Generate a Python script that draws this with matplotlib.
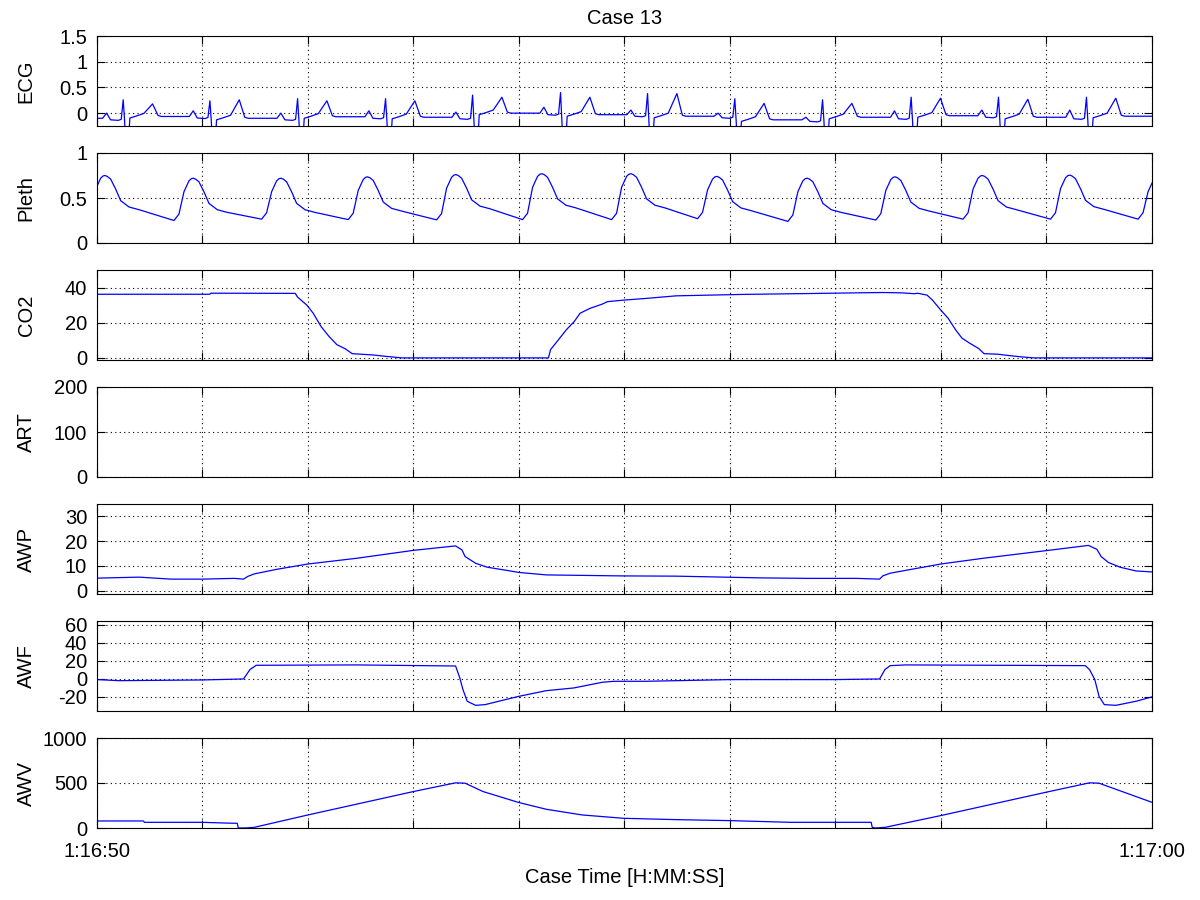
import matplotlib.pyplot as plt
from matplotlib.ticker import FormatStrFormatter

plt.rcParams['font.family'] = ['Liberation Sans', 'DejaVu Sans']
plt.rcParams['axes.unicode_minus'] = False

# x axis: seconds after 1:16:50
tick_seconds = list(range(11))
tick_labels = ['1:16:50'] + [''] * 9 + ['1:17:00']

# ECG beats: R time (s), R / T / P wave heights, baseline between beats
ecg_r_time = [0.249, 1.071, 1.902, 2.736, 3.561, 4.395, 5.220, 6.047, 6.879, 7.719, 8.547, 9.381]
ecg_r_amp = [0.26, 0.24, 0.28, 0.28, 0.35, 0.40, 0.38, 0.28, 0.26, 0.31, 0.31, 0.31]
ecg_t_amp = [0.18, 0.26, 0.24, 0.24, 0.31, 0.31, 0.38, 0.19, 0.19, 0.29, 0.27, 0.29]
ecg_p_amp = [0.0, 0.045, 0.0, 0.045, 0.02, 0.115, 0.06, 0.0, -0.08, 0.045, 0.06, 0.06]
ecg_base = [-0.1, -0.065, -0.1, -0.07, -0.08, 0.0, -0.03, -0.06, -0.13, -0.08, -0.05, -0.08, -0.06]
# one beat: offset from R (s), which level it refers to, and offset from that level
ecg_shape_dt = [-0.237, -0.196, -0.158, -0.12, -0.047, -0.019, 0.0, 0.013, 0.022, 0.05,
                0.063, 0.126, 0.196, 0.278, 0.33, 0.363]
ecg_shape_ref = ['b', 'b', 'p', 'b', 'b', 'b', 'r', 'abs', 'abs', 'abs',
                 'n', 'n', 'n', 't', 'n', 'n']
ecg_shape_delta = [0, 0, 0, -0.03, -0.04, -0.02, 0, -0.15, -0.55, -0.55,
                   -0.03, 0.01, 0.06, 0, 0.02, 0]

# Pleth pulses: trough time (s), trough and peak levels
pleth_trough_time = [-0.107, 0.730, 1.561, 2.382, 3.220, 4.035, 4.879, 5.694, 6.55, 7.384, 8.211, 9.040, 9.870]
pleth_trough = [0.30, 0.25, 0.265, 0.26, 0.257, 0.26, 0.26, 0.27, 0.24, 0.255, 0.265, 0.265, 0.265]
pleth_peak = [0.75, 0.72, 0.72, 0.735, 0.76, 0.77, 0.77, 0.74, 0.72, 0.735, 0.75, 0.754, 0.72]
pleth_shape_dt = [0.0, 0.047, 0.095, 0.142, 0.165, 0.183, 0.205, 0.237, 0.284, 0.332, 0.411, 0.506]
pleth_shape_ref = ['tr', 'tr', 'pk', 'pk', 'pk', 'pk', 'pk', 'pk', 'pk', 'pk', 'pk', 'pk']
pleth_shape_delta = [0.0, 0.07, -0.15, -0.03, -0.005, 0.0, -0.01, -0.04, -0.15, -0.28, -0.35, -0.38]

co2_t = [0, 1.07, 1.08, 1.88, 1.90, 1.99, 2.05, 2.125, 2.20, 2.275, 2.35, 2.42, 2.61, 2.76, 2.89,
         4.28, 4.30, 4.375, 4.45, 4.525, 4.58, 4.675, 4.79, 4.84, 5.0, 5.2, 5.49, 6.11, 6.73, 7.45,
         7.63, 7.75, 7.78, 7.87, 7.92, 8.0, 8.07, 8.14, 8.2, 8.27, 8.36, 8.41, 8.54, 8.65, 8.76, 8.88, 10]
co2_v = [36.2, 36.2, 36.8, 36.7, 34.7, 30.0, 25.4, 17.8, 12.2, 7.5, 5.3, 2.4, 1.7, 0.75, 0.0,
         0.0, 4.7, 10.3, 16.0, 20.7, 25.4, 28.2, 30.6, 32.0, 32.9, 33.8, 35.3, 36.1, 36.6, 37.2,
         37.0, 36.5, 36.8, 35.7, 32.9, 27.2, 22.5, 16.0, 11.3, 8.5, 5.3, 2.4, 2.1, 1.3, 0.6, 0.0, 0.0]

awp_t = [0, 0.4, 0.7, 1.0, 1.3, 1.39, 1.43, 1.49, 1.71, 2.0, 2.46, 3.0, 3.40, 3.46, 3.49, 3.59, 3.70,
         3.89, 4.0, 4.26, 4.97, 5.49, 6.29, 6.74, 7.2, 7.42, 7.45, 7.52, 8.0, 8.4, 9.0, 9.40, 9.48,
         9.52, 9.59, 9.70, 9.85, 10]
awp_v = [5.1, 5.5, 4.7, 4.7, 5.0, 4.7, 5.8, 6.8, 8.7, 10.8, 13.1, 16.3, 18.1, 16.5, 13.8, 11.1, 9.5,
         8.2, 7.4, 6.4, 6.0, 5.9, 5.2, 5.0, 5.0, 4.7, 6.0, 7.1, 10.8, 13.1, 16.2, 18.3, 16.7,
         13.8, 11.4, 9.5, 8.0, 7.6]

awf_t = [0, 0.21, 1.0, 1.39, 1.45, 1.51, 2.46, 3.40, 3.44, 3.47, 3.51, 3.59, 3.68, 4.0, 4.26, 4.52,
         4.79, 4.9, 5.2, 6.0, 7.0, 7.42, 7.47, 7.52, 7.67, 9.37, 9.41, 9.46, 9.5, 9.55, 9.66, 9.85, 10]
awf_v = [-0.7, -1.9, -1.1, 0.0, 10.4, 15.2, 15.6, 14.4, 1.1, -11.9, -24.8, -29.3, -28.5, -19.3, -13.0,
         -10.0, -3.7, -2.6, -2.6, -0.7, -0.7, 0.0, 10.4, 14.8, 15.6, 14.8, 10.4, -0.7, -19.3, -28.5,
         -29.3, -24.8, -20.0]

awv_t = [0, 0.44, 0.45, 1.0, 1.22, 1.33, 1.34, 1.41, 1.49, 2.0, 3.0, 3.40, 3.49, 3.66, 4.0, 4.26,
         4.6, 4.99, 5.49, 6.0, 6.58, 7.34, 7.35, 7.38, 7.47, 8.0, 9.0, 9.41, 9.50, 10]
awv_v = [78, 78, 63, 63, 55, 52, 0, 0, 7, 145, 405, 502, 498, 405, 283, 208,
         145, 108, 93, 82, 63, 63, 7, 0, 7, 138, 398, 502, 498, 286]

art_t = []
art_v = []

# assemble the beat-by-beat traces from the read-off beat values
ecg_t, ecg_v = [0.0], [ecg_base[0]]
for i, r in enumerate(ecg_r_time):
    levels = {'b': ecg_base[i], 'n': ecg_base[i + 1], 'p': ecg_p_amp[i],
              'r': ecg_r_amp[i], 't': ecg_t_amp[i], 'abs': 0.0}
    for dt, ref, d in zip(ecg_shape_dt, ecg_shape_ref, ecg_shape_delta):
        ecg_t.append(r + dt)
        ecg_v.append(levels[ref] + d)
ecg_t.append(10.0)
ecg_v.append(ecg_base[-1])

pleth_t, pleth_v = [], []
for tt, tr, pk in zip(pleth_trough_time, pleth_trough, pleth_peak):
    levels = {'tr': tr, 'pk': pk}
    for dt, ref, d in zip(pleth_shape_dt, pleth_shape_ref, pleth_shape_delta):
        pleth_t.append(tt + dt)
        pleth_v.append(levels[ref] + d)

panels = [
    ('ECG', ecg_t, ecg_v, (-0.25, 1.5), [0, 0.5, 1, 1.5]),
    ('Pleth', pleth_t, pleth_v, (0, 1), [0, 0.5, 1]),
    ('CO2', co2_t, co2_v, (-1.2, 50), [0, 20, 40]),
    ('ART', art_t, art_v, (0, 200), [0, 100, 200]),
    ('AWP', awp_t, awp_v, (-1.3, 35), [0, 10, 20, 30]),
    ('AWF', awf_t, awf_v, (-35.6, 64.4), [-20, 0, 20, 40, 60]),
    ('AWV', awv_t, awv_v, (0, 1000), [0, 500, 1000]),
]

fig = plt.figure(figsize=(12, 9), dpi=100)
fs = 14.5
n = len(panels)
axes = []
for k, (name, t, v, ylim, yticks) in enumerate(panels):
    bottom = 0.08 + 0.13 * (n - 1 - k)
    ax = fig.add_axes([0.0808, bottom, 0.879, 0.1])
    ax.plot(t, v, color='#0000ff', linewidth=0.9)
    ax.set_xlim(0, 10)
    ax.set_ylim(*ylim)
    ax.set_yticks(yticks)
    ax.yaxis.set_major_formatter(FormatStrFormatter('%g'))
    ax.set_xticks(tick_seconds)
    ax.set_xticklabels(tick_labels)
    ax.grid(True, color='black', linestyle=(0, (1, 3)), linewidth=0.8)
    ax.tick_params(direction='in', length=6, width=0.8, top=True, right=True,
                   labelsize=fs, labelbottom=(k == n - 1))
    ax.tick_params(axis='y', pad=7)
    ax.tick_params(axis='x', pad=10)
    for sp in ax.spines.values():
        sp.set_linewidth(0.8)
    ax.set_ylabel(name, fontsize=fs)
    ax.yaxis.set_label_coords(-0.058, 0.5)
    axes.append(ax)

axes[0].set_title('Case 13', fontsize=fs, pad=9)
axes[-1].set_xlabel('Case Time [H:MM:SS]', fontsize=fs, labelpad=5)

plt.savefig('out.png', dpi=100)
